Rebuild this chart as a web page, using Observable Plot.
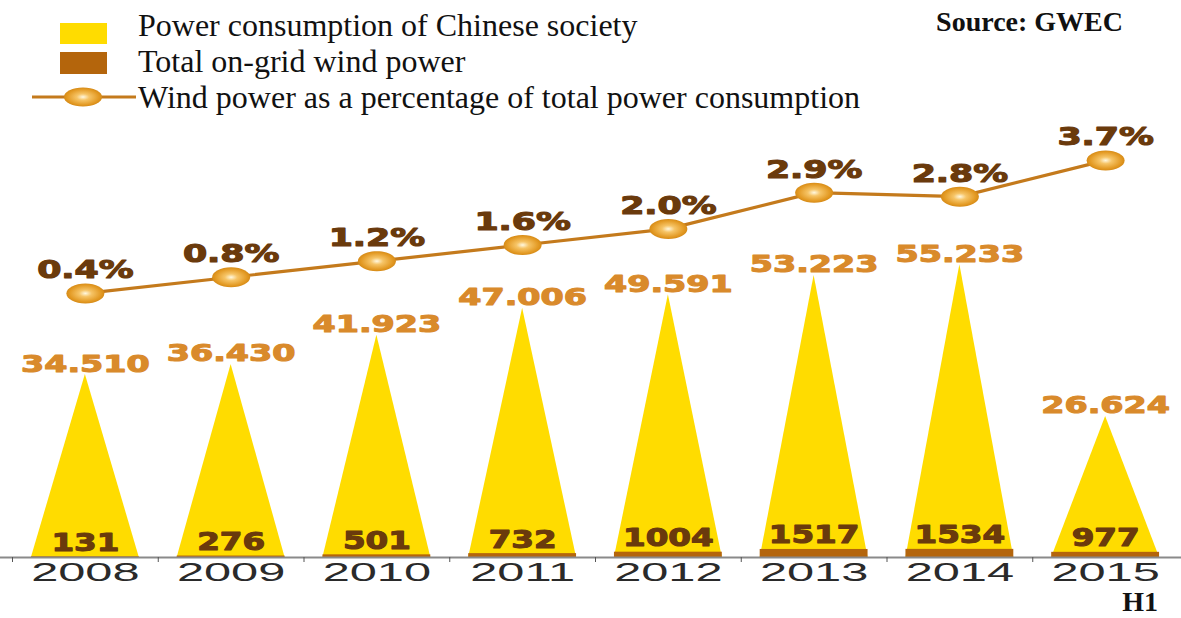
<!DOCTYPE html>
<html>
<head>
<meta charset="utf-8">
<script src="https://cdn.jsdelivr.net/npm/d3@7"></script>
<script src="https://cdn.jsdelivr.net/npm/@observablehq/plot@0.6"></script>
<style>
  html, body { margin: 0; padding: 0; background: #fff; }
  #wrap { position: relative; width: 1181px; height: 618px; overflow: hidden; }
  #wrap > svg { position: absolute; left: 0; top: 0; overflow: visible; }
</style>
</head>
<body>
<div id="wrap"></div>
<script>
// ---- data ----
const years = [2008, 2009, 2010, 2011, 2012, 2013, 2014, 2015];
const consumption = [34.510, 36.430, 41.923, 47.006, 49.591, 53.223, 55.233, 26.624];
const windPower = [131, 276, 501, 732, 1004, 1517, 1534, 977];
const windShare = [0.4, 0.8, 1.2, 1.6, 2.0, 2.9, 2.8, 3.7];
const legendLabels = [
  "Power consumption of Chinese society",
  "Total on-grid wind power",
  "Wind power as a percentage of total power consumption"
];
const sourceText = "Source: GWEC";
const footText = "H1";

// ---- styles ----
const YELLOW = "#FFDC00", BROWN = "#B4650C", ORANGE = "#D98A2B", DARK = "#6A3A0C", LINE = "#C47A1C";
const W = 1181, H = 618;
const HALF = 0.37; // half width of a triangle / bar, in band units

const rows = years.map((year, i) => ({year, cons: consumption[i], wind: windPower[i], share: windShare[i]}));
const triPts = rows.flatMap(d => [
  {year: d.year, x: d.year - HALF, y: 0},
  {year: d.year, x: d.year, y: d.cons},
  {year: d.year, x: d.year + HALF, y: 0}
]);

const xScale = {type: "linear", domain: [years[0] - 0.5, years[years.length - 1] + 0.5], range: [12, 1178]};

const ellipse = {
  draw(ctx) {
    const rx = 19, ry = 10, k = 0.5523;
    ctx.moveTo(rx, 0);
    ctx.bezierCurveTo(rx, ry * k, rx * k, ry, 0, ry);
    ctx.bezierCurveTo(-rx * k, ry, -rx, ry * k, -rx, 0);
    ctx.bezierCurveTo(-rx, -ry * k, -rx * k, -ry, 0, -ry);
    ctx.bezierCurveTo(rx * k, -ry, rx, -ry * k, rx, 0);
    ctx.closePath();
  }
};

const boldFont = "DejaVu Sans";

// main plot: triangles, wind bars, axis
const main = Plot.plot({
  width: W, height: H,
  marginTop: 0, marginBottom: 61, marginLeft: 0, marginRight: 0,
  x: {...xScale},
  y: {domain: [0, 557 / 5.3], axis: null},
  marks: [
    Plot.areaY(triPts, {x: "x", y: "y", z: "year", fill: YELLOW, curve: "linear"}),
    Plot.rectY(rows, {x1: d => d.year - HALF, x2: d => d.year + HALF, y: d => d.wind / 1000, fill: BROWN, inset: 0}),
    Plot.ruleY([0], {stroke: "#8a8a8a", strokeWidth: 2}),
    Plot.axisX({ticks: years.map(y => y - 0.5), tickSize: 5, tickFormat: () => "", stroke: "#555", label: null}),
    Plot.axisX({ticks: years, tickSize: 0, tickPadding: 6, tickFormat: d => String(d), fontSize: 25, fontFamily: "Liberation Sans", color: "#2a2a2a", label: null}),
    Plot.text(rows, {x: "year", y: "cons", text: d => d.cons.toFixed(3), dy: -3, lineAnchor: "bottom",
      fill: ORANGE, stroke: ORANGE, strokeWidth: 1.1, fontSize: 23.5, fontWeight: "bold", fontFamily: boldFont}),
    Plot.text(rows, {x: "year", y: d => d.wind / 1000, text: d => String(d.wind), dy: -6, lineAnchor: "bottom",
      fill: DARK, stroke: DARK, strokeWidth: 1.1, fontSize: 24.5, fontWeight: "bold", fontFamily: boldFont})
  ]
});

// overlay plot: percentage line on its own y scale
const share = Plot.plot({
  width: W, height: H,
  marginTop: 0, marginBottom: 61, marginLeft: 0, marginRight: 0,
  x: {...xScale, axis: null},
  y: {domain: [0, 4], range: [309, 147.8], axis: null},
  marks: [
    Plot.line(rows, {x: "year", y: "share", stroke: LINE, strokeWidth: 3.2}),
    Plot.dot(rows, {x: "year", y: "share", symbol: ellipse, fill: "url(#markerGrad)", stroke: "none"}),
    Plot.text(rows, {x: "year", y: "share", text: d => d.share.toFixed(1) + "%", dy: -15, lineAnchor: "bottom",
      fill: DARK, stroke: DARK, strokeWidth: 1.1, fontSize: 24, fontWeight: "bold", fontFamily: boldFont})
  ]
});
share.style.background = "transparent";
main.style.background = "transparent";

function addGradient(svg, id) {
  const defs = d3.select(svg).insert("defs", ":first-child");
  const g = defs.append("radialGradient").attr("id", id).attr("cx", "50%").attr("cy", "50%").attr("r", "55%");
  g.append("stop").attr("offset", "0%").attr("stop-color", "#FFF8E0");
  g.append("stop").attr("offset", "30%").attr("stop-color", "#F6C466");
  g.append("stop").attr("offset", "75%").attr("stop-color", "#E39A24");
  g.append("stop").attr("offset", "100%").attr("stop-color", "#CF820F");
}
addGradient(share, "markerGrad");

const wrap = document.getElementById("wrap");
wrap.appendChild(main);
wrap.appendChild(share);

// legend + notes
const leg = d3.select(wrap).append("svg").attr("width", W).attr("height", H);
addGradient(leg.node(), "legGrad");
leg.append("rect").attr("x", 60).attr("y", 23).attr("width", 47).attr("height", 21).attr("fill", YELLOW);
leg.append("rect").attr("x", 60).attr("y", 52).attr("width", 47).attr("height", 22).attr("fill", BROWN);
leg.append("line").attr("x1", 32).attr("x2", 136).attr("y1", 97).attr("y2", 97).attr("stroke", LINE).attr("stroke-width", 3.2);
leg.append("ellipse").attr("cx", 83).attr("cy", 97).attr("rx", 19).attr("ry", 9.5).attr("fill", "url(#legGrad)");
leg.selectAll("text.leg").data(legendLabels).join("text").attr("class", "leg")
  .attr("x", 138).attr("y", (d, i) => 36 + 36 * i)
  .attr("font-family", "Liberation Serif").attr("font-size", 32).attr("fill", "#111").text(d => d);
leg.append("text").attr("x", 1123).attr("y", 31).attr("text-anchor", "end")
  .attr("font-family", "Liberation Serif").attr("font-weight", "bold").attr("font-size", 28).attr("fill", "#111").text(sourceText);
leg.append("text").attr("x", 1158).attr("y", 611).attr("text-anchor", "end")
  .attr("font-family", "Liberation Serif").attr("font-weight", "bold").attr("font-size", 28).attr("fill", "#111").text(footText);

// stretch the wide display fonts horizontally
function stretchText(t, factor) {
  const len = t.getComputedTextLength();
  if (len > 0) {
    t.setAttribute("textLength", (len * factor).toFixed(1));
    t.setAttribute("lengthAdjust", "spacingAndGlyphs");
  }
}
const yearSet = new Set(years.map(String));
main.querySelectorAll("text").forEach(t => {
  const s = t.textContent.trim();
  if (yearSet.has(s)) stretchText(t, 1.95);
  else if (s.includes(".")) stretchText(t, 1.42);
  else if (/^\d+$/.test(s)) stretchText(t, 1.33);
});
share.querySelectorAll("text").forEach(t => {
  if (t.textContent.includes("%")) stretchText(t, 1.45);
});
</script>
</body>
</html>
